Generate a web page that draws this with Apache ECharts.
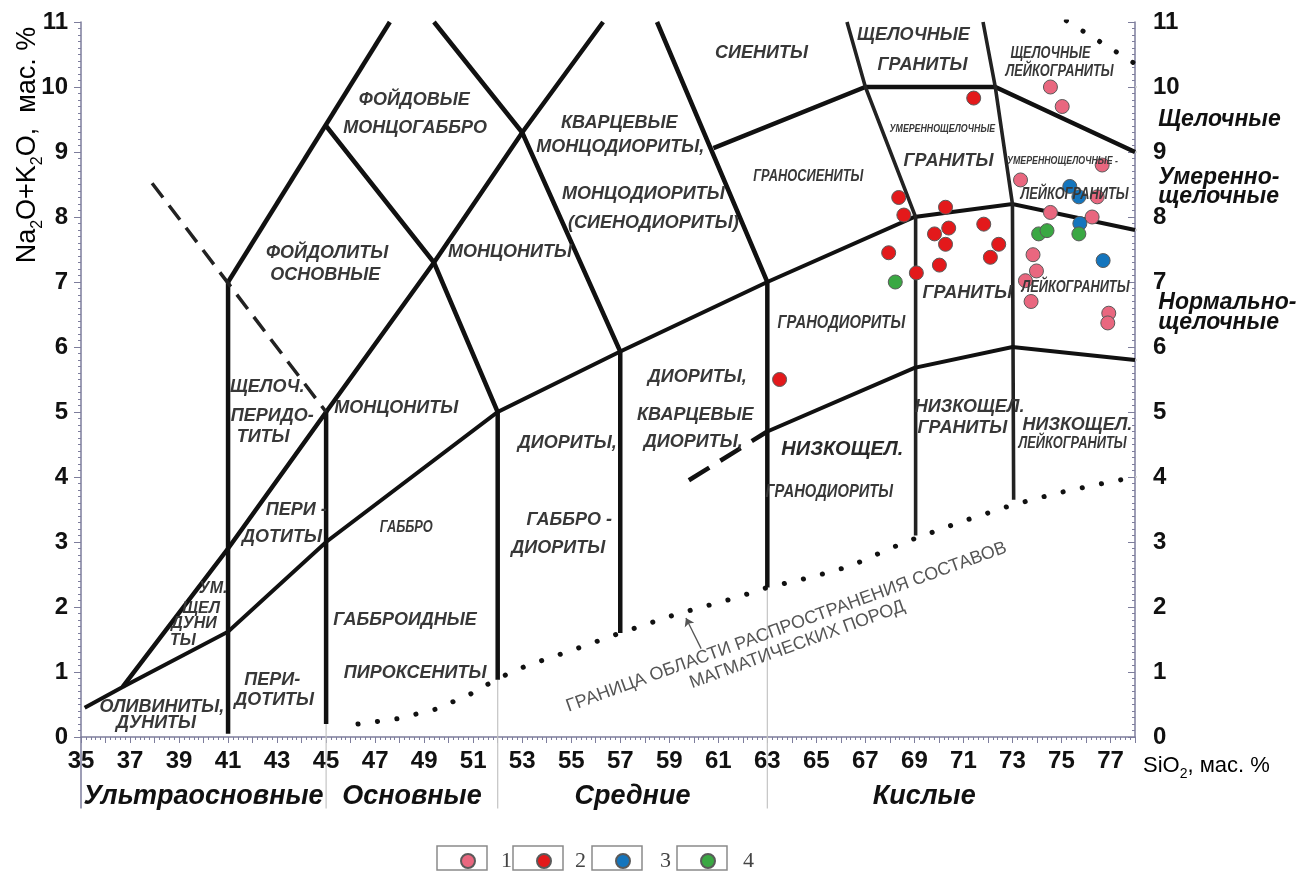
<!DOCTYPE html>
<html>
<head>
<meta charset="utf-8">
<script src="https://cdn.jsdelivr.net/npm/echarts@6/dist/echarts.min.js"></script>
<style>
  html, body { margin: 0; padding: 0; background: #fff; }
  #chart { width: 1310px; height: 876px; }
</style>
</head>
<body>
<div id="chart"></div>
<script>
// ---- Samples: SiO2 (wt %) vs Na2O+K2O (wt %) ----
const group1 = [[74.55,10.0],[75.03,9.7],[76.66,8.8],[73.33,8.57],[76.46,8.31],[74.55,8.07],[76.25,8.0],
                [73.84,7.42],[73.98,7.17],[73.53,7.02],[73.76,6.7],[76.93,6.52],[76.89,6.37]];
const group2 = [[71.42,9.83],[68.36,8.30],[68.57,8.03],[70.27,8.15],[69.82,7.74],[70.4,7.83],[70.27,7.58],
                [71.83,7.89],[72.44,7.58],[72.1,7.38],[67.95,7.45],[70.02,7.26],[69.08,7.14],[63.5,5.5]];
const group3 = [[75.34,8.47],[75.71,8.31],[75.75,7.9],[76.7,7.33]];
const group4 = [[68.22,7.0],[74.07,7.74],[74.41,7.79],[75.71,7.74]];
const groupNames = ['1', '2', '3', '4'];

// ---- Classification field boundaries ----
const lineA = [[36.7,0.77],[41,2.9],[45,5.0],[49.4,7.3],[53,9.3],[56.3,11]];
const lineB = [[35.15,0.45],[36.7,0.77],[41,1.62],[45,3.0],[52,5.0],[57,5.93],[63,7.0],[69,8.0],[73,8.2],[78,7.8]];
const lineC = [[60.8,9.06],[67,10],[72.3,10],[78,9.0]];
const lineD = [[58.5,11],[63,7.0],[63,2.3]];
const lineE = [[49.4,11],[53,9.3],[57,5.93],[57,1.6]];
const lineF = [[41,7.0],[47.6,11]];
const lineG = [[45,9.4],[49.4,7.3],[52,5.0],[52,0.88]];
const lineH = [[41,7.0],[41,0.05]];
const lineI = [[45,5.0],[45,0.2]];
const lineK = [[66.25,11],[67,10],[69.05,8.0],[69.05,3.1]];
const lineL = [[71.8,11],[72.3,10],[73,8.2],[73.05,3.65]];
const lineM = [[63,4.7],[69,5.68],[73,6.0],[78,5.8]];
const dashM = [[59.8,3.95],[63,4.7]];
const dashN = [[37.9,8.52],[45,5.0]];
const limitCurve = [[46.3,0.2],[47.9,0.28],[49.5,0.43],[51,0.68],[52,0.9],[53.2,1.1],[55,1.33],[57,1.6],
                    [59.3,1.89],[61.7,2.14],[63,2.3],[64.8,2.46],[66.4,2.63],[68,2.9],[69,3.05],[70.9,3.31],
                    [73,3.57],[74.8,3.75],[76.4,3.88],[78,4.0]];
const limitTop = [[75.2,11.02],[78,10.36]];
const noteArrow = [[60.3,1.36],[59.68,1.83]];

// alkalinity series limits on the right scale, silica group limits on the bottom
const alkaliMarks = [10, 9, 7.8, 5.8, 4];
const silicaMarks = [[45,0.2],[52,0.88],[63,2.3]];

// ---- Axis labelling ----
const xName = 'SiO2, мас. %';
const yName = 'Na2O+K2O,  мас. %';
const silicaGroups = [['Ультраосновные',40],['Основные',48.5],['Средние',57.5],['Кислые',69.4]];
const alkaliGroups = [['Щелочные',9.49],['Умеренно-',8.6],['щелочные',8.31],['Нормально-',6.68],['щелочные',6.38]];

// ---- Rock field names: [SiO2, Na2O+K2O, text, kind] ----
const fieldNames = [
  [48.6,9.8,'ФОЙДОВЫЕ','r'], [48.63,9.37,'МОНЦОГАББРО','r'],
  [56.96,9.45,'КВАРЦЕВЫЕ','r'], [57.0,9.08,'МОНЦОДИОРИТЫ,','r'],
  [62.76,10.52,'СИЕНИТЫ','r'], [68.96,10.8,'ЩЕЛОЧНЫЕ','r'], [69.33,10.34,'ГРАНИТЫ','r'],
  [74.55,10.52,'ЩЕЛОЧНЫЕ','c'], [74.92,10.23,'ЛЕЙКОГРАНИТЫ','c'],
  [70.14,9.35,'УМЕРЕННОЩЕЛОЧНЫЕ','s'], [70.39,8.86,'ГРАНИТЫ','r'],
  [64.67,8.62,'ГРАНОСИЕНИТЫ','c'],
  [57.94,8.35,'МОНЦОДИОРИТЫ','r'], [58.35,7.9,'(СИЕНОДИОРИТЫ)','r'],
  [45.04,7.44,'ФОЙДОЛИТЫ','r'], [44.96,7.11,'ОСНОВНЫЕ','r'], [52.5,7.46,'МОНЦОНИТЫ','r'],
  [75.04,8.86,'УМЕРЕННОЩЕЛОЧНЫЕ -','s'], [75.53,8.34,'ЛЕЙКОГРАНИТЫ','c'],
  [71.16,6.83,'ГРАНИТЫ','r'], [75.57,6.91,'ЛЕЙКОГРАНИТЫ','c'], [66.02,6.37,'ГРАНОДИОРИТЫ','c2'],
  [42.6,5.38,'ЩЕЛОЧ.','r'], [42.8,4.94,'ПЕРИДО-','r'], [42.43,4.62,'ТИТЫ','r'],
  [47.86,5.06,'МОНЦОНИТЫ','r'],
  [60.14,5.54,'ДИОРИТЫ,','r'], [60.06,4.95,'КВАРЦЕВЫЕ','r'], [59.98,4.54,'ДИОРИТЫ,','r'],
  [54.84,4.52,'ДИОРИТЫ,','r'],
  [71.25,5.08,'НИЗКОЩЕЛ.','r'], [70.96,4.75,'ГРАНИТЫ','r'],
  [75.65,4.8,'НИЗКОЩЕЛ.','r'], [75.45,4.52,'ЛЕЙКОГРАНИТЫ','c'],
  [66.06,4.42,'НИЗКОЩЕЛ.','L'], [65.53,3.77,'ГРАНОДИОРИТЫ','c2'],
  [43.78,3.49,'ПЕРИ -','r'], [43.2,3.08,'ДОТИТЫ','r'], [48.27,3.22,'ГАББРО','c'],
  [54.92,3.34,'ГАББРО -','r'], [54.47,2.91,'ДИОРИТЫ','r'],
  [40.39,2.29,'УМ.','m'], [39.9,1.98,'ЩЕЛ','m'], [39.61,1.75,'ДУНИ','m'], [39.16,1.49,'ТЫ','m'],
  [48.22,1.8,'ГАББРОИДНЫЕ','r'], [48.63,0.98,'ПИРОКСЕНИТЫ','r'],
  [42.8,0.88,'ПЕРИ-','r'], [42.88,0.57,'ДОТИТЫ','r'],
  [38.3,0.46,'ОЛИВИНИТЫ,','r'], [38.06,0.22,'ДУНИТЫ','r']
];
const noteLines = [[63.78,1.69,'ГРАНИЦА ОБЛАСТИ РАСПРОСТРАНЕНИЯ СОСТАВОВ'],[64.22,1.42,'МАГМАТИЧЕСКИХ ПОРОД']];

// ---- Styling ----
const SANS = '"Liberation Sans", Arial, Helvetica, sans-serif';
const AXIS_COLOR = '#7d7d9c';
const INK = '#111';
const kinds = {
  r:  { font: 'italic bold 18px ' + SANS, sx: 1,    fill: '#383838' },
  L:  { font: 'italic bold 20px ' + SANS, sx: 1,    fill: '#2a2a2a' },
  m:  { font: 'italic bold 16px ' + SANS, sx: 1,    fill: '#383838' },
  c:  { font: 'italic bold 16px ' + SANS, sx: 0.8,  fill: '#383838' },
  c2: { font: 'italic bold 18px ' + SANS, sx: 0.82, fill: '#383838' },
  s:  { font: 'italic bold 11px ' + SANS, sx: 0.8,  fill: '#383838' },
  side:  { font: 'italic bold 23px ' + SANS, sx: 1, fill: INK, align: 'left' },
  group: { font: 'italic bold 27px ' + SANS, sx: 1, fill: INK },
  note:  { font: '18px ' + SANS, sx: 1, fill: '#555', rot: 20 * Math.PI / 180 }
};
const colors = ['#e9677f', '#e3191b', '#1475bd', '#3aa843'];

// every piece of text placed by data coordinates
const textItems = []
  .concat(fieldNames.map(d => ({ p: [d[0], d[1]], t: d[2], k: d[3] })))
  .concat(noteLines.map(d => ({ p: [d[0], d[1]], t: d[2], k: 'note' })))
  .concat(silicaGroups.map(d => ({ p: [d[1], -0.92], t: d[0], k: 'group' })))
  .concat(alkaliGroups.map(d => ({ p: [78.95, d[1]], t: d[0], k: 'side' })));

function boundary(data, style, extra) {
  return Object.assign({
    type: 'line', data: data, symbol: 'none', silent: true, animation: false, z: 2,
    lineStyle: Object.assign({ color: INK, width: 4.5, cap: 'butt', join: 'miter' }, style || {})
  }, extra || {});
}

const series = [
  boundary(lineA), boundary(lineB, { width: 4 }), boundary(lineC), boundary(lineD),
  boundary(lineE), boundary(lineF), boundary(lineG), boundary(lineH), boundary(lineI),
  boundary(lineK, { width: 3.6, color: '#222' }), boundary(lineL, { width: 3.6, color: '#222' }),
  boundary(lineM, { width: 4 }),
  boundary(dashM, { width: 4.5, type: [24, 13] }),
  boundary(dashN, { width: 3.5, type: [18, 10], color: '#222' }),
  boundary(limitCurve, { width: 5, type: [0.1, 19.5], cap: 'round', color: '#111' }),
  boundary(limitTop, { width: 5, type: [0.1, 19.5], cap: 'round', color: '#111' })
];

// thin guide lines continuing beyond the plot frame
alkaliMarks.forEach(v => series.push(boundary([[78, v], [84.1, v]], { width: 1.5, color: '#cfcfcf' }, { clip: false, z: 1 })));
silicaMarks.forEach(m => series.push(boundary([m, [m[0], -1.1]], { width: 1.2, color: '#c4c4c4' }, { clip: false, z: 1 })));
series.push(boundary([[35, 0], [35, -1.1]], { width: 1.5, color: AXIS_COLOR }, { clip: false, z: 1 }));

series.push({
  type: 'lines', coordinateSystem: 'cartesian2d', silent: true, animation: false, z: 3,
  symbol: ['none', 'arrow'], symbolSize: 8,
  lineStyle: { color: '#555', width: 1.3, opacity: 1 },
  data: [{ coords: noteArrow }]
});

[group1, group2, group3, group4].forEach((g, i) => series.push({
  type: 'scatter', name: groupNames[i], data: g, symbol: 'circle', symbolSize: 14, z: 5,
  animation: false,
  itemStyle: { color: colors[i], borderColor: '#5a5a5a', borderWidth: 1, opacity: 1 }
}));

series.push({
  type: 'custom', silent: true, animation: false, clip: false, z: 6,
  data: textItems.map(d => d.p),
  encode: { x: 0, y: 1 },
  renderItem: function (params, api) {
    const it = textItems[params.dataIndex];
    const k = kinds[it.k];
    const pt = api.coord(it.p);
    return {
      type: 'text', x: pt[0], y: pt[1], scaleX: k.sx, rotation: k.rot || 0,
      style: { text: it.t, font: k.font, fill: k.fill, align: k.align || 'center', verticalAlign: 'middle' }
    };
  }
});

const legendSpots = [[455, 21], [531, 19], [610, 25], [695, 23]];
const legends = legendSpots.map((s, i) => ({
  data: [groupNames[i]], left: s[0], top: 845, icon: 'circle', itemWidth: 14, itemHeight: 14,
  selectedMode: false,
  textStyle: { fontFamily: '"Liberation Serif", "Times New Roman", serif', fontSize: 22, color: '#444', padding: [0, 0, 0, s[1]] }
}));

const subRich = {
  a: { fontFamily: SANS, fontSize: 27, color: '#222', lineHeight: 36, verticalAlign: 'middle' },
  b: { fontFamily: SANS, fontSize: 16, color: '#222', lineHeight: 16, verticalAlign: 'bottom' }
};
const subRichX = {
  a: { fontFamily: SANS, fontSize: 22, color: '#222', lineHeight: 30, verticalAlign: 'middle' },
  b: { fontFamily: SANS, fontSize: 14, color: '#222', lineHeight: 14, verticalAlign: 'bottom' }
};
function withSub(s) { return s.replace(/(\D)2(\D)/g, '$1}{b|2}{a|$2').replace(/^/, '{a|') + '}'; }

const boxes = legendSpots.map(s => ({
  type: 'rect', z: 1, silent: true,
  shape: { x: s[0] - 18, y: 846, width: 50, height: 24 },
  style: { fill: '#fff', stroke: '#8a8a8a', lineWidth: 1.5 }
}));

const tickFont = { fontFamily: SANS, fontWeight: 'bold', fontSize: 24, color: INK };

const option = {
  backgroundColor: '#fff',
  animation: false,
  grid: { left: 81, right: 175, top: 22, bottom: 139 },
  xAxis: {
    type: 'value', min: 35, max: 78, interval: 1,
    axisLine: { show: true, onZero: false, lineStyle: { color: AXIS_COLOR, width: 1.5 } },
    axisTick: { show: true, length: 6, lineStyle: { color: AXIS_COLOR, width: 1 } },
    minorTick: { show: true, splitNumber: 5, length: 3, lineStyle: { color: AXIS_COLOR, width: 1 } },
    splitLine: { show: false },
    axisLabel: Object.assign({ margin: 12, formatter: v => (v % 2 === 1 ? String(v) : '') }, tickFont)
  },
  yAxis: [{
    type: 'value', min: 0, max: 11, interval: 1, position: 'left',
    axisLine: { show: true, onZero: false, lineStyle: { color: AXIS_COLOR, width: 1.5 } },
    axisTick: { show: true, length: 7, lineStyle: { color: AXIS_COLOR, width: 1 } },
    minorTick: { show: true, splitNumber: 10, length: 3, lineStyle: { color: AXIS_COLOR, width: 1 } },
    splitLine: { show: false },
    axisLabel: Object.assign({ margin: 13 }, tickFont)
  }, {
    type: 'value', min: 0, max: 11, interval: 1, position: 'right',
    axisLine: { show: true, onZero: false, lineStyle: { color: AXIS_COLOR, width: 1.5 } },
    axisTick: { show: true, inside: true, length: 7, lineStyle: { color: AXIS_COLOR, width: 1 } },
    minorTick: { show: true, splitNumber: 10, length: 3, lineStyle: { color: AXIS_COLOR, width: 1 } },
    splitLine: { show: false },
    axisLabel: Object.assign({ margin: 18 }, tickFont)
  }],
  legend: legends,
  graphic: boxes.concat([
    {
      type: 'text', x: 28, y: 145, rotation: Math.PI / 2, silent: true,
      style: { text: withSub(yName), rich: subRich, align: 'center', verticalAlign: 'middle' }
    },
    {
      type: 'text', x: 1143, y: 766, silent: true,
      style: { text: withSub(xName), rich: subRichX, align: 'left', verticalAlign: 'middle' }
    }
  ]),
  series: series
};

const chart = echarts.init(document.getElementById('chart'), null, { renderer: 'canvas' });
chart.setOption(option);
</script>
</body>
</html>
